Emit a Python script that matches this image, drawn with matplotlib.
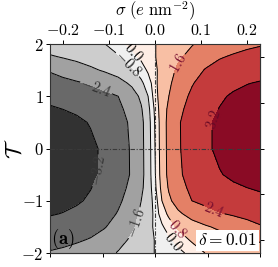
import matplotlib
matplotlib.use("Agg")
import matplotlib.pyplot as plt
from matplotlib.ticker import FuncFormatter, FixedLocator

plt.rcParams["mathtext.fontset"] = "cm"
plt.rcParams["font.family"] = ["DejaVu Serif"]

# --- data ---
sigma = [-0.23, -0.2, -0.17, -0.14, -0.11, -0.08, -0.05, -0.03, -0.015, -0.005, 0.0,
         0.005, 0.015, 0.03, 0.05, 0.08, 0.11, 0.14, 0.17, 0.2, 0.23]
T_vals = [-2.0, -1.75, -1.5, -1.25, -1.0, -0.75, -0.5, 0.0, 0.5, 0.75, 1.0, 1.25, 1.5, 1.75, 2.0]

z_m200 = [-2.35, -2.27, -2.15, -2.00, -1.80, -1.56, -1.30, -1.10, -0.95, -0.84, -0.78, -0.72, -0.62, -0.45, -0.25, 0.27, 0.83, 0.93, 1.00, 1.10, 1.20]
z_m175 = [-2.65, -2.58, -2.48, -2.35, -2.10, -1.80, -1.50, -1.28, -1.05, -0.86, -0.77, -0.70, -0.50, -0.20, 0.32, 0.92, 1.10, 1.27, 1.42, 1.56, 1.70]
z_m150 = [-2.97, -2.90, -2.80, -2.65, -2.45, -2.10, -1.70, -1.40, -1.10, -0.80, -0.65, -0.50, -0.15, 0.45, 0.93, 1.25, 1.52, 1.73, 1.95, 2.15, 2.35]
z_m125 = [-3.25, -3.18, -3.08, -2.92, -2.68, -2.35, -1.85, -1.50, -1.15, -0.82, -0.50, -0.20, 0.45, 0.95, 1.45, 1.90, 2.15, 2.35, 2.48, 2.60, 2.70]
z_m100 = [-3.45, -3.37, -3.27, -3.12, -2.85, -2.52, -2.10, -1.60, -1.25, -0.75, -0.40, 0.00, 0.80, 1.45, 1.95, 2.40, 2.58, 2.72, 2.84, 2.93, 3.00]
z_m075 = [-3.62, -3.52, -3.38, -3.22, -2.98, -2.66, -2.22, -1.75, -1.24, -0.62, -0.20, 0.28, 1.05, 1.68, 2.15, 2.55, 2.78, 2.95, 3.10, 3.20, 3.30]
z_m050 = [-3.80, -3.68, -3.52, -3.33, -3.09, -2.78, -2.32, -1.83, -1.22, -0.52, -0.08, 0.40, 1.17, 1.80, 2.26, 2.70, 2.97, 3.16, 3.32, 3.45, 3.56]
z_p000 = [-3.83, -3.69, -3.53, -3.33, -3.09, -2.78, -2.31, -1.82, -1.20, -0.48, 0.00, 0.48, 1.20, 1.82, 2.31, 2.78, 3.09, 3.33, 3.53, 3.69, 3.83]
z_p050 = [-3.56, -3.45, -3.32, -3.16, -2.97, -2.70, -2.26, -1.80, -1.17, -0.40, 0.08, 0.52, 1.22, 1.83, 2.32, 2.78, 3.09, 3.33, 3.52, 3.68, 3.80]
z_p075 = [-3.30, -3.20, -3.10, -2.95, -2.78, -2.55, -2.15, -1.68, -1.05, -0.28, 0.20, 0.62, 1.24, 1.75, 2.22, 2.66, 2.98, 3.22, 3.38, 3.52, 3.62]
z_p100 = [-3.00, -2.93, -2.84, -2.72, -2.58, -2.40, -1.95, -1.45, -0.80, 0.00, 0.40, 0.75, 1.25, 1.60, 2.10, 2.52, 2.85, 3.12, 3.27, 3.37, 3.45]
z_p125 = [-2.70, -2.60, -2.48, -2.35, -2.15, -1.90, -1.45, -0.95, -0.45, 0.20, 0.50, 0.82, 1.15, 1.50, 1.85, 2.35, 2.68, 2.92, 3.08, 3.18, 3.25]
z_p150 = [-2.35, -2.15, -1.95, -1.73, -1.52, -1.25, -0.93, -0.45, 0.15, 0.50, 0.65, 0.80, 1.10, 1.40, 1.70, 2.10, 2.45, 2.65, 2.80, 2.90, 2.97]
z_p175 = [-1.70, -1.56, -1.42, -1.27, -1.10, -0.92, -0.32, 0.20, 0.50, 0.70, 0.77, 0.86, 1.05, 1.28, 1.50, 1.80, 2.10, 2.35, 2.48, 2.58, 2.65]
z_p200 = [-1.20, -1.10, -1.00, -0.93, -0.83, -0.27, 0.25, 0.45, 0.62, 0.72, 0.78, 0.84, 0.95, 1.10, 1.30, 1.56, 1.80, 2.00, 2.15, 2.27, 2.35]

Z = [z_m200, z_m175, z_m150, z_m125, z_m100, z_m075, z_m050, z_p000,
     z_p050, z_p075, z_p100, z_p125, z_p150, z_p175, z_p200]

fill_levels = [-4.0, -3.2, -2.4, -1.6, -0.8, 0.0, 0.8, 1.6, 2.4, 3.2, 4.0]
line_levels = [-3.2, -2.4, -1.6, -0.8, 0.0, 0.8, 1.6, 2.4, 3.2]
label_colors = ["#3a3a3a", "#333333", "#3a3a3a", "#111111", "#000000",
                "#7a1030", "#7a1030", "#7a1030", "#6a0a25"]
label_spots = [(-0.047, 1.84), (-0.06, 1.6), (-0.128, 1.16), (-0.126, -0.43),
               (0.05, 1.64), (0.122, 0.58), (-0.043, -1.43), (0.128, -1.18),
               (0.05, -1.52), (0.04, -1.78)]

x_ticks = [-0.2, -0.1, 0.0, 0.1, 0.2]
y_ticks = [-2, -1, 0, 1, 2]
delta_text = r"$\delta = 0.01$"
panel_text = r"$\mathbf{(a)}$"

# --- figure ---
fig = plt.figure(figsize=(2.78, 2.67), dpi=100)
ax = fig.add_axes([0.1799, 0.0524, 0.7554, 0.7828])

ax.contourf(sigma, T_vals, Z, levels=fill_levels, cmap="RdGy_r", vmin=-4, vmax=4)
cs = ax.contour(sigma, T_vals, Z, levels=line_levels, colors="k",
                linewidths=0.7, negative_linestyles="solid")

def lab_fmt(v):
    if abs(v) < 1e-9:
        v = 0.0
    return f"${v:.1f}$"

ax.clabel(cs, fmt=lab_fmt, fontsize=10.5, inline=True, inline_spacing=1,
          manual=label_spots, colors=label_colors)

ax.axhline(0, color="#3a3a3a", lw=0.8, ls=(0, (4, 1.5, 1, 1.5)))
ax.axvline(0, color="#3a3a3a", lw=0.8, ls=(0, (4, 1.5, 1, 1.5)))

ax.set_xlim(-0.228, 0.228)
ax.set_ylim(-2, 2)

ax.xaxis.set_major_locator(FixedLocator(x_ticks))
ax.yaxis.set_major_locator(FixedLocator(y_ticks))
ax.xaxis.set_major_formatter(FuncFormatter(lambda v, p: f"${v:.1f}$"))
ax.yaxis.set_major_formatter(FuncFormatter(lambda v, p: f"${v:.0f}$"))
ax.tick_params(axis="x", top=True, labeltop=True, bottom=False, labelbottom=False,
               direction="out", length=3, width=0.7, labelsize=11.5, pad=0.5)
ax.tick_params(axis="y", left=True, right=False, direction="out", length=3,
               width=0.7, labelsize=12, pad=1.5)
ax.xaxis.set_label_position("top")
ax.set_xlabel(r"$\sigma\ (e\ \mathrm{nm}^{-2})$", fontsize=12, labelpad=4)
ax.set_ylabel(r"$\mathcal{T}$", fontsize=16)
ax.yaxis.set_label_coords(-0.11, 0.5)

for sp in ax.spines.values():
    sp.set_linewidth(0.8)
    sp.set_color("#333333")

secx = ax.secondary_xaxis("bottom", functions=(lambda s: s / 0.114, lambda u: u * 0.114))
secx.set_xticks(y_ticks)
secx.tick_params(direction="out", length=3, width=0.7, labelbottom=False)
secy = ax.secondary_yaxis("right", functions=(lambda t: t / 0.88, lambda u: u * 0.88))
secy.set_yticks(y_ticks)
secy.tick_params(direction="out", length=3, width=0.7, labelright=False)
for sec in (secx, secy):
    for sp in sec.spines.values():
        sp.set_linewidth(0.8)
        sp.set_color("#333333")

ax.text(0.005, 0.01, panel_text, transform=ax.transAxes, fontsize=13.5,
        ha="left", va="bottom")
ax.text(0.985, 0.02, delta_text, transform=ax.transAxes, fontsize=12.5,
        ha="right", va="bottom",
        bbox=dict(boxstyle="square,pad=0.1", facecolor="white", edgecolor="none"))

fig.savefig("out.png", dpi=100)
